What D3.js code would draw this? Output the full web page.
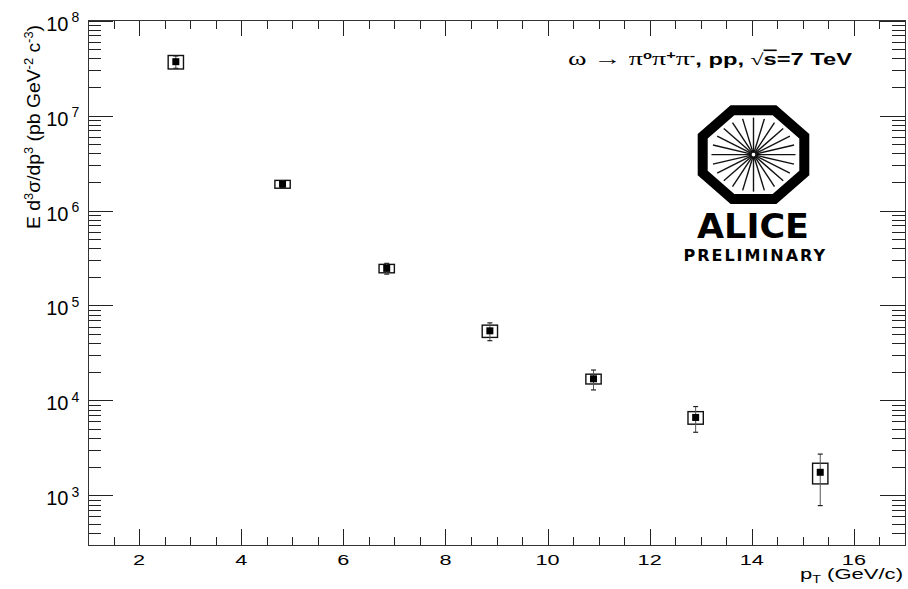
<!DOCTYPE html>
<meta charset="utf-8" />
<html lang="en">
  <head>
    <script src="https://d3js.org/d3.v7.min.js"></script>
    <style>
      body {
        margin: 0;
        background: #fff;
      }
      svg text {
        font-family: "Liberation Sans", Arial, sans-serif;
        fill: #000;
      }
      .axis path {
        stroke: none;
      }
      .axis line {
        stroke: #222;
        shape-rendering: crispEdges;
      }
      .frame {
        fill: none;
        stroke: #333;
        shape-rendering: crispEdges;
      }
    </style>
  </head>
  <body>
    <svg width="908" height="589"></svg>
    <script>
      // omega -> pi0 pi+ pi-, pp at 7 TeV
      var ptBins = [2.72, 4.81, 6.85, 8.87, 10.9, 12.9, 15.34];
      var yields = [3.7e7, 1.9e6, 2.46e5, 5.41e4, 1.69e4, 6.62e3, 1.75e3];
      var statErr = [5.5e6, 1.6e5, 3.2e4, 1.15e4, 4.0e3, 2.0e3, 9.7e2];
      var sysErr = [6.0e6, 1.8e5, 2.5e4, 8.0e3, 2.0e3, 1.0e3, 4.3e2];
      var sysHalfWidth = 0.15;

      var xMajor = [2, 4, 6, 8, 10, 12, 14, 16];
      var yDecades = [1e3, 1e4, 1e5, 1e6, 1e7, 1e8];

      // note: "top" is taken by window.top, so pad* names
      var svg = d3.select("svg"),
        padL = 88,
        padR = 905,
        padT = 20.7,
        padB = 545;

      var x = d3.scaleLinear().domain([1, 17]).range([padL, padR]);
      var y = d3.scaleLog().domain([300, 1e8]).range([padB, padT]);

      var xMinor = d3.range(1.5, 17, 0.5).filter(function(d) {
        return d % 2 !== 0;
      });
      var yMinor = y.ticks().filter(function(d) {
        return yDecades.indexOf(d) < 0 && d >= 300;
      });

      // ticks on all four sides, pointing inwards (ROOT style)
      function addAxis(axis, tx, ty) {
        svg
          .append("g")
          .attr("class", "axis")
          .attr("transform", "translate(" + tx + "," + ty + ")")
          .call(axis.tickFormat("").tickSizeOuter(0))
          .selectAll("text")
          .remove();
      }
      addAxis(d3.axisBottom(x).tickValues(xMajor).tickSize(-16), 0, padB);
      addAxis(d3.axisBottom(x).tickValues(xMinor).tickSize(-8), 0, padB);
      addAxis(d3.axisTop(x).tickValues(xMajor).tickSize(-15), 0, padT);
      addAxis(d3.axisTop(x).tickValues(xMinor).tickSize(-8), 0, padT);
      addAxis(d3.axisLeft(y).tickValues(yDecades).tickSize(-25), padL, 0);
      addAxis(d3.axisLeft(y).tickValues(yMinor).tickSize(-13), padL, 0);
      addAxis(d3.axisRight(y).tickValues(yDecades).tickSize(-25), padR, 0);
      addAxis(d3.axisRight(y).tickValues(yMinor).tickSize(-13), padR, 0);

      svg
        .append("rect")
        .attr("class", "frame")
        .attr("x", padL)
        .attr("y", padT)
        .attr("width", padR - padL)
        .attr("height", padB - padT);

      // x tick labels
      svg
        .append("g")
        .selectAll("text")
        .data(xMajor)
        .enter()
        .append("text")
        .attr("transform", function(d) {
          return "translate(" + x(d) + ",564.5) scale(1.4,1)";
        })
        .attr("text-anchor", "middle")
        .style("font-size", "15.5px")
        .text(function(d) {
          return d;
        });

      // y tick labels 10^n
      var ylab = svg
        .append("g")
        .selectAll("g")
        .data(yDecades)
        .enter()
        .append("g");
      ylab
        .append("text")
        .attr("x", 68.5)
        .attr("y", function(d) {
          return y(d) + 10;
        })
        .attr("text-anchor", "end")
        .style("font-size", "20px")
        .text("10");
      ylab
        .append("text")
        .attr("x", 71.5)
        .attr("y", function(d) {
          return y(d) + 1.5;
        })
        .style("font-size", "14px")
        .text(function(d) {
          return Math.round(Math.log10(d));
        });

      // axis titles
      var xt = svg
        .append("text")
        .attr("x", 903)
        .attr("y", 579)
        .attr("text-anchor", "end")
        .attr("textLength", 103)
        .attr("lengthAdjust", "spacingAndGlyphs")
        .style("font-size", "15.5px");
      xt.append("tspan").text("p");
      xt.append("tspan").attr("dy", 4).style("font-size", "10px").text("T");
      xt.append("tspan").attr("dy", -4).text(" (GeV/c)");

      var yt = svg
        .append("text")
        .attr("transform", "translate(40,25) rotate(-90)")
        .attr("text-anchor", "end")
        .attr("textLength", 204)
        .attr("lengthAdjust", "spacingAndGlyphs")
        .style("font-size", "18px");
      var ytParts = [
        ["E d", 0],
        ["3", 1],
        ["σ/dp", 0],
        ["3", 1],
        [" (pb GeV", 0],
        ["-2", 1],
        [" c", 0],
        ["-3", 1],
        [")", 0]
      ];
      var lastSup = 0;
      ytParts.forEach(function(p) {
        yt.append("tspan")
          .attr("dy", (lastSup - p[1]) * 7)
          .style("font-size", p[1] ? "12px" : "18px")
          .text(p[0]);
        lastSup = p[1];
      });

      // data: systematic boxes, statistical bars, markers
      var pts = ptBins.map(function(p, i) {
        return { pt: p, v: yields[i], stat: statErr[i], sys: sysErr[i] };
      });
      var g = svg
        .append("g")
        .selectAll("g")
        .data(pts)
        .enter()
        .append("g");

      g.append("rect")
        .attr("x", function(d) {
          return x(d.pt - sysHalfWidth);
        })
        .attr("y", function(d) {
          return y(d.v + d.sys);
        })
        .attr("width", function(d) {
          return x(d.pt + sysHalfWidth) - x(d.pt - sysHalfWidth);
        })
        .attr("height", function(d) {
          return y(d.v - d.sys) - y(d.v + d.sys);
        })
        .attr("fill", "none")
        .attr("stroke", "#111")
        .attr("stroke-width", 1.4);

      g.append("line")
        .attr("x1", function(d) {
          return x(d.pt);
        })
        .attr("x2", function(d) {
          return x(d.pt);
        })
        .attr("y1", function(d) {
          return y(d.v + d.stat);
        })
        .attr("y2", function(d) {
          return y(d.v - d.stat);
        })
        .attr("stroke", "#555")
        .attr("stroke-width", 1);

      [1, -1].forEach(function(s) {
        g.append("line")
          .attr("x1", function(d) {
            return x(d.pt) - 2.5;
          })
          .attr("x2", function(d) {
            return x(d.pt) + 2.5;
          })
          .attr("y1", function(d) {
            return y(d.v + s * d.stat);
          })
          .attr("y2", function(d) {
            return y(d.v + s * d.stat);
          })
          .attr("stroke", "#222")
          .attr("stroke-width", 1.2);
      });

      g.append("rect")
        .attr("x", function(d) {
          return x(d.pt) - 3.5;
        })
        .attr("y", function(d) {
          return y(d.v) - 3.5;
        })
        .attr("width", 7)
        .attr("height", 7)
        .attr("fill", "#000");

      // title
      var title = svg
        .append("text")
        .attr("x", 568)
        .attr("y", 64.5)
        .attr("textLength", 284)
        .attr("lengthAdjust", "spacingAndGlyphs")
        .style("font-size", "16px")
        .style("font-weight", "bold");
      var serif = "'Liberation Serif', 'DejaVu Serif', serif";
      title.append("tspan").style("font-family", serif).style("font-weight", "normal").style("font-size", "19px").text("ω → π");
      title.append("tspan").style("font-size", "10px").attr("dy", -6).text("o");
      title.append("tspan").style("font-family", serif).style("font-weight", "normal").style("font-size", "19px").attr("dy", 6).text("π");
      title.append("tspan").style("font-size", "11px").attr("dy", -6).text("+");
      title.append("tspan").style("font-family", serif).style("font-weight", "normal").style("font-size", "19px").attr("dy", 6).text("π");
      title.append("tspan").style("font-size", "11px").attr("dy", -6).text("-");
      title.append("tspan").attr("dy", 6).text(", pp, ");
      title.append("tspan").style("font-weight", "normal").style("font-family", serif).text("√");
      title.append("tspan").style("text-decoration", "overline").text("s");
      title.append("tspan").text("=7 TeV");

      // ALICE preliminary logo
      var cx = 753.5,
        cy = 154.6,
        ax = 50.8,
        by = 44.35,
        t = Math.tan(Math.PI / 8);
      var oct = [
        [ax, by * t],
        [ax * t, by],
        [-ax * t, by],
        [-ax, by * t],
        [-ax, -by * t],
        [-ax * t, -by],
        [ax * t, -by],
        [ax, -by * t]
      ];
      var logo = svg.append("g").attr("transform", "translate(" + cx + "," + cy + ")");
      logo
        .append("path")
        .attr("d", "M" + oct.join("L") + "Z")
        .attr("fill", "none")
        .attr("stroke", "#000")
        .attr("stroke-width", 10)
        .attr("stroke-linejoin", "miter");
      logo
        .selectAll("line")
        .data(d3.range(24))
        .enter()
        .append("line")
        .attr("x1", function(k) {
          return 2 * Math.cos((k * Math.PI) / 12);
        })
        .attr("y1", function(k) {
          return 2 * Math.sin((k * Math.PI) / 12);
        })
        .attr("x2", function(k) {
          return 42 * Math.cos((k * Math.PI) / 12);
        })
        .attr("y2", function(k) {
          return 37 * Math.sin((k * Math.PI) / 12);
        })
        .attr("stroke", "#111")
        .attr("stroke-width", 1.4);

      svg
        .append("text")
        .attr("x", 697)
        .attr("y", 238)
        .attr("textLength", 112)
        .attr("lengthAdjust", "spacingAndGlyphs")
        .style("font-family", "'DejaVu Sans', sans-serif")
        .style("font-weight", "bold")
        .style("font-size", "34px")
        .text("ALICE");
      svg
        .append("text")
        .attr("x", 683.5)
        .attr("y", 260.7)
        .attr("textLength", 141.5)
        .attr("lengthAdjust", "spacing")
        .style("font-family", "'DejaVu Sans', sans-serif")
        .style("font-weight", "bold")
        .style("font-size", "16px")
        .text("PRELIMINARY");
    </script>
  </body>
</html>
